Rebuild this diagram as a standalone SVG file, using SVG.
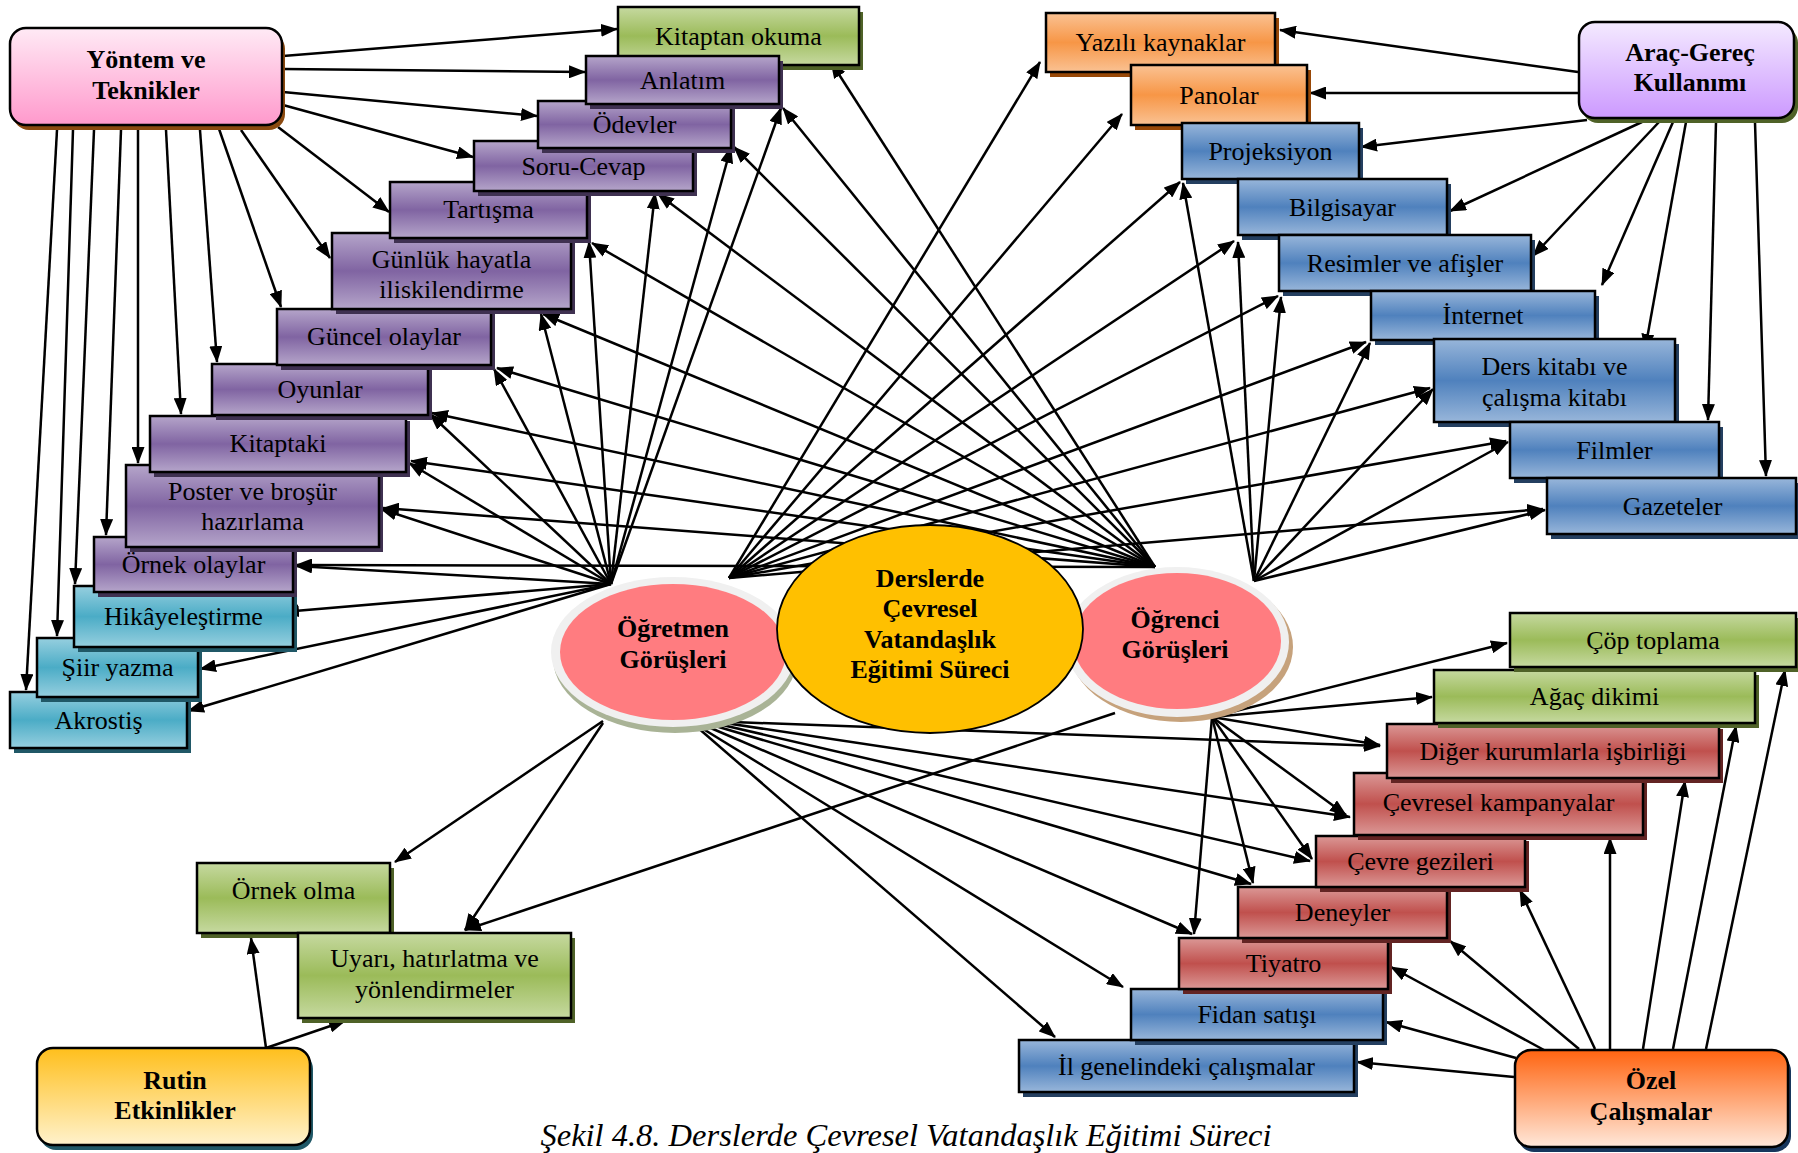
<svg xmlns="http://www.w3.org/2000/svg" width="1798" height="1153" viewBox="0 0 1798 1153" font-family="'Liberation Serif', 'Times New Roman', Times, 'DejaVu Serif', serif">
<defs>
  <linearGradient id="gPurple" x1="0" y1="0" x2="0" y2="1"><stop offset="0" stop-color="#B5A5CA"/><stop offset="0.5" stop-color="#8064A2"/><stop offset="1" stop-color="#B5A5CA"/></linearGradient>
  <linearGradient id="gGreen" x1="0" y1="0" x2="0" y2="1"><stop offset="0" stop-color="#C6D9A0"/><stop offset="0.5" stop-color="#9BBB59"/><stop offset="1" stop-color="#C6D9A0"/></linearGradient>
  <linearGradient id="gBlue" x1="0" y1="0" x2="0" y2="1"><stop offset="0" stop-color="#98B6DA"/><stop offset="0.5" stop-color="#4F81BD"/><stop offset="1" stop-color="#98B6DA"/></linearGradient>
  <linearGradient id="gTeal" x1="0" y1="0" x2="0" y2="1"><stop offset="0" stop-color="#96CFDF"/><stop offset="0.5" stop-color="#4BACC6"/><stop offset="1" stop-color="#96CFDF"/></linearGradient>
  <linearGradient id="gRed" x1="0" y1="0" x2="0" y2="1"><stop offset="0" stop-color="#DB9896"/><stop offset="0.5" stop-color="#C0504D"/><stop offset="1" stop-color="#DB9896"/></linearGradient>
  <linearGradient id="gOrange" x1="0" y1="0" x2="0" y2="1"><stop offset="0" stop-color="#FAC293"/><stop offset="0.5" stop-color="#F79646"/><stop offset="1" stop-color="#FAC293"/></linearGradient>
  <linearGradient id="gPink" x1="0" y1="0" x2="0" y2="1"><stop offset="0" stop-color="#FFEAF5"/><stop offset="1" stop-color="#FF99CC"/></linearGradient>
  <linearGradient id="gLav" x1="0" y1="0" x2="0" y2="1"><stop offset="0" stop-color="#F4EAFF"/><stop offset="1" stop-color="#CC99FF"/></linearGradient>
  <linearGradient id="gRutin" x1="0" y1="0" x2="0" y2="1"><stop offset="0" stop-color="#FFBF1C"/><stop offset="1" stop-color="#FFF2CC"/></linearGradient>
  <linearGradient id="gOzel" x1="0" y1="0" x2="0" y2="1"><stop offset="0" stop-color="#FF6410"/><stop offset="1" stop-color="#FFE8DA"/></linearGradient>
  <marker id="ah" viewBox="0 0 17 13" refX="16" refY="6.5" markerWidth="17" markerHeight="13" markerUnits="userSpaceOnUse" orient="auto">
    <path d="M0,0 L17,6.5 L0,13 z" fill="#000"/>
  </marker>
</defs>
<style>
  .conn line { stroke: #000; stroke-width: 2.5; fill: none; marker-end: url(#ah); }
  .bx { stroke: #000; stroke-width: 2.5; }
  .rb { stroke: #000; stroke-width: 2.5; }
  .shP { fill: #3F3151; }
  .shG { fill: #4F6228; }
  .shB { fill: #243F60; }
  .shT { fill: #205867; }
  .shR { fill: #632423; }
  .shO { fill: #984807; }
  .t { font-family: 'Liberation Serif', 'Times New Roman', Times, 'DejaVu Serif', serif; font-size: 26px; text-anchor: middle; fill: #000; }
  .b { font-weight: bold; }
  .cap { font-family: 'Liberation Serif', 'Times New Roman', Times, 'DejaVu Serif', serif; font-size: 32.5px; font-style: italic; text-anchor: middle; fill: #000; }
</style>

<rect width="1798" height="1153" fill="#FFFFFF"/>

<!-- connectors -->
<g id="connectors" class="conn">
  <!-- Yöntem ve Teknikler -->
  <line x1="283" y1="56" x2="617" y2="29"/>
  <line x1="283" y1="69" x2="585" y2="72"/>
  <line x1="283" y1="92" x2="537" y2="116"/>
  <line x1="283" y1="105" x2="473" y2="157"/>
  <line x1="278" y1="127" x2="389" y2="212"/>
  <line x1="241" y1="130" x2="330" y2="258"/>
  <line x1="218" y1="126" x2="281" y2="307"/>
  <line x1="200" y1="130" x2="217" y2="362"/>
  <line x1="166" y1="130" x2="181" y2="414"/>
  <line x1="138" y1="130" x2="138" y2="463"/>
  <line x1="121" y1="130" x2="106" y2="535"/>
  <line x1="94" y1="130" x2="75" y2="584"/>
  <line x1="73" y1="130" x2="57" y2="636"/>
  <line x1="57" y1="130" x2="26" y2="690"/>

  <!-- Öğretmen Görüşleri, upper left fan -->
  <line x1="611" y1="584" x2="781" y2="108"/>
  <line x1="611" y1="584" x2="731" y2="147"/>
  <line x1="611" y1="584" x2="655" y2="193"/>
  <line x1="611" y1="584" x2="589" y2="242"/>
  <line x1="611" y1="584" x2="541" y2="314"/>
  <line x1="611" y1="584" x2="494" y2="369"/>
  <line x1="611" y1="584" x2="430" y2="414"/>
  <line x1="611" y1="584" x2="409" y2="463"/>
  <line x1="611" y1="584" x2="381" y2="509"/>
  <line x1="611" y1="584" x2="296" y2="566"/>
  <line x1="611" y1="584" x2="283" y2="612"/>
  <line x1="611" y1="584" x2="200" y2="669"/>
  <line x1="611" y1="584" x2="188" y2="711"/>

  <!-- Öğrenci Görüşleri, upper left fan -->
  <line x1="1155" y1="567" x2="831" y2="62"/>
  <line x1="1155" y1="567" x2="783" y2="108"/>
  <line x1="1155" y1="567" x2="734" y2="147"/>
  <line x1="1155" y1="567" x2="658" y2="194"/>
  <line x1="1155" y1="567" x2="592" y2="243"/>
  <line x1="1155" y1="567" x2="543" y2="314"/>
  <line x1="1155" y1="567" x2="497" y2="368"/>
  <line x1="1155" y1="567" x2="432" y2="413"/>
  <line x1="1155" y1="567" x2="411" y2="461"/>
  <line x1="1155" y1="567" x2="383" y2="508"/>
  <line x1="1155" y1="567" x2="296" y2="565"/>

  <!-- Öğretmen Görüşleri, upper right fan -->
  <line x1="729" y1="578" x2="1040" y2="62"/>
  <line x1="729" y1="578" x2="1122" y2="114"/>
  <line x1="729" y1="578" x2="1180" y2="182"/>
  <line x1="729" y1="578" x2="1234" y2="241"/>
  <line x1="729" y1="578" x2="1278" y2="296"/>
  <line x1="729" y1="578" x2="1366" y2="342"/>
  <line x1="729" y1="578" x2="1430" y2="388"/>
  <line x1="729" y1="578" x2="1506" y2="441"/>
  <line x1="729" y1="578" x2="1543" y2="509"/>

  <!-- Öğrenci Görüşleri, upper right fan -->
  <line x1="1254" y1="581" x2="1183" y2="183"/>
  <line x1="1254" y1="581" x2="1238" y2="242"/>
  <line x1="1254" y1="581" x2="1281" y2="297"/>
  <line x1="1254" y1="581" x2="1370" y2="343"/>
  <line x1="1254" y1="581" x2="1433" y2="389"/>
  <line x1="1254" y1="581" x2="1508" y2="442"/>
  <line x1="1254" y1="581" x2="1545" y2="510"/>

  <!-- Araç-Gereç Kullanımı -->
  <line x1="1578" y1="72" x2="1280" y2="30"/>
  <line x1="1578" y1="93" x2="1310" y2="93"/>
  <line x1="1587" y1="120" x2="1361" y2="147"/>
  <line x1="1642" y1="122" x2="1450" y2="211"/>
  <line x1="1659" y1="122" x2="1533" y2="256"/>
  <line x1="1673" y1="122" x2="1602" y2="285"/>
  <line x1="1686" y1="122" x2="1645" y2="350"/>
  <line x1="1716" y1="122" x2="1708" y2="420"/>
  <line x1="1755" y1="122" x2="1766" y2="476"/>

  <!-- Öğretmen Görüşleri, lower fan -->
  <line x1="603" y1="721" x2="395" y2="862"/>
  <line x1="603" y1="723" x2="465" y2="930"/>
  <line x1="697" y1="727" x2="1055" y2="1037"/>
  <line x1="700" y1="727" x2="1123" y2="987"/>
  <line x1="706" y1="726" x2="1192" y2="934"/>
  <line x1="712" y1="725" x2="1251" y2="884"/>
  <line x1="718" y1="724" x2="1310" y2="861"/>
  <line x1="725" y1="723" x2="1350" y2="817"/>
  <line x1="733" y1="722" x2="1380" y2="746"/>

  <!-- Öğrenci Görüşleri, lower fan -->
  <line x1="1212" y1="717" x2="1507" y2="643"/>
  <line x1="1212" y1="717" x2="1432" y2="697"/>
  <line x1="1212" y1="717" x2="1380" y2="745"/>
  <line x1="1212" y1="717" x2="1346" y2="815"/>
  <line x1="1212" y1="717" x2="1312" y2="859"/>
  <line x1="1212" y1="717" x2="1253" y2="883"/>
  <line x1="1212" y1="717" x2="1194" y2="934"/>
  <line x1="1115" y1="713" x2="465" y2="930"/>

  <!-- Özel Çalışmalar -->
  <line x1="1514" y1="1077" x2="1357" y2="1062"/>
  <line x1="1516" y1="1058" x2="1386" y2="1022"/>
  <line x1="1544" y1="1050" x2="1391" y2="967"/>
  <line x1="1579" y1="1049" x2="1450" y2="941"/>
  <line x1="1595" y1="1049" x2="1520" y2="890"/>
  <line x1="1610" y1="1049" x2="1610" y2="838"/>
  <line x1="1643" y1="1049" x2="1685" y2="781"/>
  <line x1="1673" y1="1049" x2="1736" y2="726"/>
  <line x1="1706" y1="1049" x2="1785" y2="670"/>

  <!-- Rutin Etkinlikler -->
  <line x1="266" y1="1048" x2="251" y2="938"/>
  <line x1="266" y1="1048" x2="345" y2="1021"/>
</g>

<!-- left column: methods and techniques -->
<g id="n-kitaptan"><rect class="shG" x="622" y="12" width="241" height="58"/><rect class="bx" x="618" y="7" width="241" height="58" fill="url(#gGreen)"/><text class="t" x="738.5" y="45">Kitaptan okuma</text></g>
<g id="n-akrostis"><rect class="shT" x="14" y="697" width="177" height="56"/><rect class="bx" x="10" y="692" width="177" height="56" fill="url(#gTeal)"/><text class="t" x="98.5" y="729">Akrostiş</text></g>
<g id="n-siir"><rect class="shT" x="41" y="643" width="161" height="59"/><rect class="bx" x="37" y="638" width="161" height="59" fill="url(#gTeal)"/><text class="t" x="117.5" y="676">Şiir yazma</text></g>
<g id="n-hikaye"><rect class="shT" x="78" y="591" width="219" height="61"/><rect class="bx" x="74" y="586" width="219" height="61" fill="url(#gTeal)"/><text class="t" x="183.5" y="625">Hikâyeleştirme</text></g>
<g id="n-ornekolay"><rect class="shP" x="98" y="542" width="199" height="55"/><rect class="bx" x="94" y="537" width="199" height="55" fill="url(#gPurple)"/><text class="t" x="193.5" y="573">Örnek olaylar</text></g>
<g id="n-poster"><rect class="shP" x="130" y="470" width="253" height="82"/><rect class="bx" x="126" y="465" width="253" height="82" fill="url(#gPurple)"/><text class="t" x="252.5" y="500">Poster ve broşür</text><text class="t" x="252.5" y="530">hazırlama</text></g>
<g id="n-kitaptaki"><rect class="shP" x="154" y="421" width="256" height="56"/><rect class="bx" x="150" y="416" width="256" height="56" fill="url(#gPurple)"/><text class="t" x="278" y="452">Kitaptaki</text></g>
<g id="n-oyunlar"><rect class="shP" x="216" y="369" width="216" height="51"/><rect class="bx" x="212" y="364" width="216" height="51" fill="url(#gPurple)"/><text class="t" x="320" y="398">Oyunlar</text></g>
<g id="n-guncel"><rect class="shP" x="281" y="314" width="214" height="56"/><rect class="bx" x="277" y="309" width="214" height="56" fill="url(#gPurple)"/><text class="t" x="384" y="345">Güncel olaylar</text></g>
<g id="n-gunluk"><rect class="shP" x="336" y="238" width="239" height="76"/><rect class="bx" x="332" y="233" width="239" height="76" fill="url(#gPurple)"/><text class="t" x="451.5" y="268">Günlük hayatla</text><text class="t" x="451.5" y="298">iliskilendirme</text></g>
<g id="n-tartisma"><rect class="shP" x="394" y="187" width="197" height="56"/><rect class="bx" x="390" y="182" width="197" height="56" fill="url(#gPurple)"/><text class="t" x="488.5" y="218">Tartışma</text></g>
<g id="n-soru"><rect class="shP" x="478" y="146" width="219" height="50"/><rect class="bx" x="474" y="141" width="219" height="50" fill="url(#gPurple)"/><text class="t" x="583.5" y="175">Soru-Cevap</text></g>
<g id="n-odevler"><rect class="shP" x="542" y="106" width="193" height="47"/><rect class="bx" x="538" y="101" width="193" height="47" fill="url(#gPurple)"/><text class="t" x="634.5" y="133">Ödevler</text></g>
<g id="n-anlatim"><rect class="shP" x="590" y="61" width="193" height="48"/><rect class="bx" x="586" y="56" width="193" height="48" fill="url(#gPurple)"/><text class="t" x="682.5" y="89">Anlatım</text></g>

<!-- right column: tools and materials -->
<g id="n-yazili"><rect class="shO" x="1050" y="18" width="229" height="59"/><rect class="bx" x="1046" y="13" width="229" height="59" fill="url(#gOrange)"/><text class="t" x="1160.5" y="51">Yazılı kaynaklar</text></g>
<g id="n-panolar"><rect class="shO" x="1135" y="70" width="176" height="60"/><rect class="bx" x="1131" y="65" width="176" height="60" fill="url(#gOrange)"/><text class="t" x="1219" y="104">Panolar</text></g>
<g id="n-projeksiyon"><rect class="shB" x="1186" y="128" width="177" height="56"/><rect class="bx" x="1182" y="123" width="177" height="56" fill="url(#gBlue)"/><text class="t" x="1270.5" y="160">Projeksiyon</text></g>
<g id="n-bilgisayar"><rect class="shB" x="1242" y="184" width="209" height="56"/><rect class="bx" x="1238" y="179" width="209" height="56" fill="url(#gBlue)"/><text class="t" x="1342.5" y="216">Bilgisayar</text></g>
<g id="n-resimler"><rect class="shB" x="1283" y="240" width="252" height="56"/><rect class="bx" x="1279" y="235" width="252" height="56" fill="url(#gBlue)"/><text class="t" x="1405" y="272">Resimler ve afişler</text></g>
<g id="n-internet"><rect class="shB" x="1375" y="296" width="224" height="49"/><rect class="bx" x="1371" y="291" width="224" height="49" fill="url(#gBlue)"/><text class="t" x="1483" y="324">İnternet</text></g>
<g id="n-derskitabi"><rect class="shB" x="1438" y="344" width="241" height="83"/><rect class="bx" x="1434" y="339" width="241" height="83" fill="url(#gBlue)"/><text class="t" x="1554.5" y="375">Ders kitabı ve</text><text class="t" x="1554.5" y="406">çalışma kitabı</text></g>
<g id="n-filmler"><rect class="shB" x="1514" y="427" width="209" height="56"/><rect class="bx" x="1510" y="422" width="209" height="56" fill="url(#gBlue)"/><text class="t" x="1614.5" y="459">Filmler</text></g>
<g id="n-gazeteler"><rect class="shB" x="1551" y="483" width="249" height="56"/><rect class="bx" x="1547" y="478" width="249" height="56" fill="url(#gBlue)"/><text class="t" x="1672.5" y="515">Gazeteler</text></g>

<!-- lower right: special activities -->
<g id="n-il"><rect class="shB" x="1023" y="1045" width="335" height="52"/><rect class="bx" x="1019" y="1040" width="335" height="52" fill="url(#gBlue)"/><text class="t" x="1186.5" y="1075">İl genelindeki çalışmalar</text></g>
<g id="n-fidan"><rect class="shB" x="1135" y="994" width="252" height="51"/><rect class="bx" x="1131" y="989" width="252" height="51" fill="url(#gBlue)"/><text class="t" x="1257" y="1023">Fidan satışı</text></g>
<g id="n-tiyatro"><rect class="shR" x="1183" y="943" width="209" height="51"/><rect class="bx" x="1179" y="938" width="209" height="51" fill="url(#gRed)"/><text class="t" x="1283.5" y="972">Tiyatro</text></g>
<g id="n-deneyler"><rect class="shR" x="1242" y="892" width="209" height="51"/><rect class="bx" x="1238" y="887" width="209" height="51" fill="url(#gRed)"/><text class="t" x="1342.5" y="921">Deneyler</text></g>
<g id="n-geziler"><rect class="shR" x="1320" y="841" width="209" height="51"/><rect class="bx" x="1316" y="836" width="209" height="51" fill="url(#gRed)"/><text class="t" x="1420.5" y="870">Çevre gezileri</text></g>
<g id="n-kampanya"><rect class="shR" x="1358" y="778" width="289" height="62"/><rect class="bx" x="1354" y="773" width="289" height="62" fill="url(#gRed)"/><text class="t" x="1498.5" y="811">Çevresel kampanyalar</text></g>
<g id="n-diger"><rect class="shR" x="1391" y="729" width="332" height="54"/><rect class="bx" x="1387" y="724" width="332" height="54" fill="url(#gRed)"/><text class="t" x="1553" y="760">Diğer kurumlarla işbirliği</text></g>
<g id="n-agac"><rect class="shG" x="1438" y="675" width="321" height="53"/><rect class="bx" x="1434" y="670" width="321" height="53" fill="url(#gGreen)"/><text class="t" x="1594.5" y="705">Ağaç dikimi</text></g>
<g id="n-cop"><rect class="shG" x="1514" y="618" width="286" height="54"/><rect class="bx" x="1510" y="613" width="286" height="54" fill="url(#gGreen)"/><text class="t" x="1653" y="649">Çöp toplama</text></g>

<!-- lower left: routine activities -->
<g id="n-ornekolma"><rect class="shG" x="201" y="868" width="193" height="70"/><rect class="bx" x="197" y="863" width="193" height="70" fill="url(#gGreen)"/><text class="t" x="293.5" y="899">Örnek olma</text></g>
<g id="n-uyari"><rect class="shG" x="302" y="938" width="273" height="85"/><rect class="bx" x="298" y="933" width="273" height="85" fill="url(#gGreen)"/><text class="t" x="434.5" y="967">Uyarı, hatırlatma ve</text><text class="t" x="434.5" y="998">yönlendirmeler</text></g>

<!-- category headers -->
<g id="n-yontem"><rect x="13" y="33" width="272" height="97" rx="16" fill="#8B4A10"/><rect class="rb" x="10" y="28" width="272" height="97" rx="16" fill="url(#gPink)"/><text class="t b" x="146" y="68">Yöntem ve</text><text class="t b" x="146" y="99">Teknikler</text></g>
<g id="n-arac"><rect x="1582" y="27" width="216" height="96" rx="16" fill="#4F6228"/><rect class="rb" x="1579" y="22" width="215" height="96" rx="16" fill="url(#gLav)"/><text class="t b" x="1690" y="61">Araç-Gereç</text><text class="t b" x="1690" y="91">Kullanımı</text></g>
<g id="n-rutin"><rect x="40" y="1053" width="273" height="97" rx="16" fill="#205867"/><rect class="rb" x="37" y="1048" width="273" height="97" rx="16" fill="url(#gRutin)"/><text class="t b" x="175" y="1089">Rutin</text><text class="t b" x="175" y="1119">Etkinlikler</text></g>
<g id="n-ozel"><rect x="1518" y="1055" width="273" height="97" rx="16" fill="#17365D"/><rect class="rb" x="1515" y="1050" width="273" height="97" rx="16" fill="url(#gOzel)"/><text class="t b" x="1651" y="1089">Özel</text><text class="t b" x="1651" y="1120">Çalışmalar</text></g>

<!-- opinion ellipses and the central process -->
<g id="n-ogretmen">
  <ellipse cx="675" cy="658" rx="122" ry="75" fill="#A9B396"/>
  <ellipse cx="673" cy="652" rx="122" ry="75" fill="#F0F0F0"/>
  <ellipse cx="673" cy="652" rx="113" ry="68" fill="#FF7C80"/>
  <text class="t b" x="673" y="637">Öğretmen</text>
  <text class="t b" x="673" y="668">Görüşleri</text>
</g>
<g id="n-ogrenci">
  <ellipse cx="1181" cy="647" rx="112" ry="75" fill="#C6A27C"/>
  <ellipse cx="1177" cy="642" rx="112" ry="75" fill="#F0F0F0"/>
  <ellipse cx="1177" cy="641" rx="104" ry="68" fill="#FF7C80"/>
  <text class="t b" x="1175" y="628">Öğrenci</text>
  <text class="t b" x="1175" y="658">Görüşleri</text>
</g>
<g id="n-merkez">
  <ellipse cx="930" cy="629" rx="153" ry="104" fill="#FFC000" stroke="#000" stroke-width="1.8"/>
  <text class="t b" x="930" y="587">Derslerde</text>
  <text class="t b" x="930" y="617">Çevresel</text>
  <text class="t b" x="930" y="648">Vatandaşlık</text>
  <text class="t b" x="930" y="678">Eğitimi Süreci</text>
</g>

<text class="cap" x="906" y="1146">Şekil 4.8. Derslerde Çevresel Vatandaşlık Eğitimi Süreci</text>
</svg>
